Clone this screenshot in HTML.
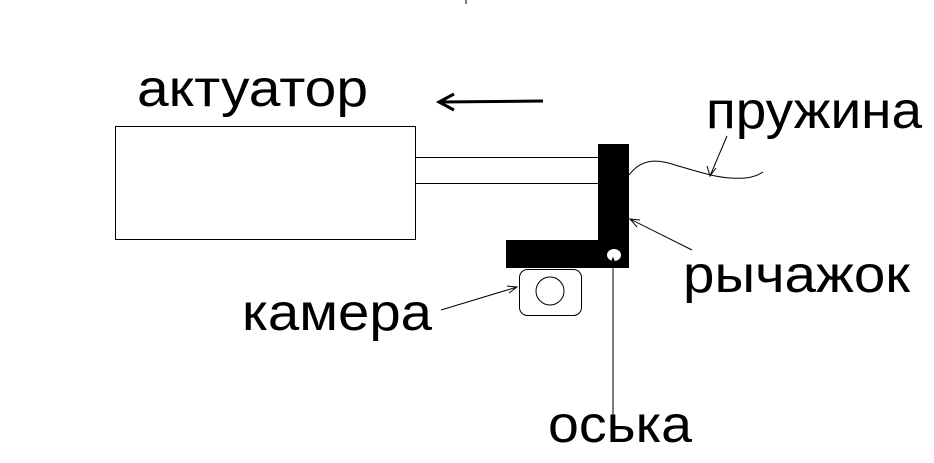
<!DOCTYPE html>
<html><head><meta charset="utf-8"><style>html,body{margin:0;padding:0;background:#fff}svg{display:block}</style></head>
<body>
<svg width="934" height="463" viewBox="0 0 934 463" xmlns="http://www.w3.org/2000/svg">
<rect width="934" height="463" fill="#fff"/>
<g font-family="Liberation Sans, DejaVu Sans, sans-serif" font-size="52" fill="#000">
<text x="137" y="106" textLength="231" lengthAdjust="spacingAndGlyphs">актуатор</text>
<text x="706" y="128" textLength="216" lengthAdjust="spacingAndGlyphs">пружина</text>
<text x="683" y="292" textLength="227" lengthAdjust="spacingAndGlyphs">рычажок</text>
<text x="242" y="330" textLength="190" lengthAdjust="spacingAndGlyphs">камера</text>
<text x="548" y="442" textLength="144" lengthAdjust="spacingAndGlyphs">оська</text>
</g>
<line x1="466" y1="0" x2="466" y2="4" stroke="#000"/>
<!-- direction arrow -->
<path d="M440 102 L543 101" stroke="#000" stroke-width="3" fill="none"/>
<path d="M454 94 L439 102 L454 110" stroke="#000" stroke-width="3" fill="none"/>
<!-- actuator -->
<rect x="115.5" y="126.5" width="300" height="113" fill="none" stroke="#000"/>
<line x1="416" y1="157.5" x2="598" y2="157.5" stroke="#000"/>
<line x1="416" y1="183.5" x2="598" y2="183.5" stroke="#000"/>
<!-- lever -->
<rect x="598" y="144" width="31" height="124" fill="#000"/>
<rect x="506" y="240" width="123" height="28" fill="#000"/>
<ellipse cx="614" cy="255" rx="7" ry="6" fill="#fff"/>
<!-- camera -->
<rect x="519.5" y="269.5" width="62" height="46" rx="8" fill="none" stroke="#000"/>
<circle cx="550" cy="291" r="14" fill="none" stroke="#000"/>
<!-- spring -->
<path d="M629 175 C640 160 655 158 675 165 C700 172 720 180 745 178 C755 177 760 174 763 172" fill="none" stroke="#000"/>
<!-- label arrows -->
<g stroke="#000" fill="none">
<line x1="727" y1="136" x2="710" y2="176"/>
<path d="M707 166 L710 176 L716 168"/>
<line x1="692" y1="250" x2="630" y2="219"/>
<path d="M640 220 L630 219 L637 227"/>
<line x1="441" y1="310" x2="517" y2="287"/>
<path d="M507 286 L517 287 L509 293"/>
<line x1="613" y1="258" x2="613" y2="430"/>
<path d="M610 266 L613 258 L616 266"/>
</g>
</svg>
</body></html>
